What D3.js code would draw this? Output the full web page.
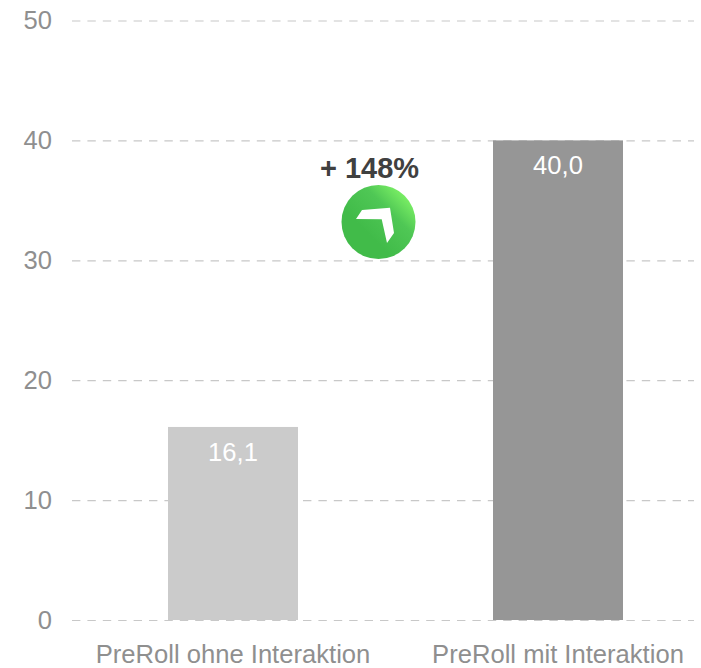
<!DOCTYPE html>
<html>
<head>
<meta charset="utf-8">
<script src="https://cdn.jsdelivr.net/npm/d3@7"></script>
<style>
  html, body { margin: 0; padding: 0; background: #fff; }
  text { font-family: "Liberation Sans", Arial, sans-serif; }
</style>
</head>
<body>
<div id="chart"></div>
<script>
const categories = ["PreRoll ohne Interaktion", "PreRoll mit Interaktion"];
const values = [16.1, 40.0];
const valueLabels = ["16,1", "40,0"];
const yTicks = [0, 10, 20, 30, 40, 50];
const barColors = ["#cbcbcb", "#969696"];
const uplift = "+ 148%";

const width = 701, height = 668;

const svg = d3.select("#chart").append("svg")
    .attr("width", width)
    .attr("height", height)
    .style("display", "block");

const y = d3.scaleLinear().domain([0, 50]).range([620, 20.5]);
const x = d3.scaleBand().domain(categories).range([70.5, 720.5])
    .paddingInner(0.6).paddingOuter(0.3);

// gridlines and y labels
const yAxis = svg.append("g")
    .attr("transform", "translate(72,0)")
    .call(d3.axisLeft(y).tickValues(yTicks).tickSize(-622).tickPadding(20));
yAxis.select(".domain").remove();
yAxis.selectAll("line")
    .attr("stroke", "#c8c8c8")
    .attr("stroke-width", 1.2)
    .attr("stroke-dasharray", "8.4 7");
yAxis.selectAll("text")
    .attr("fill", "#8f8f8f")
    .style("font-size", "25.6px")
    .style("font-family", '"Liberation Sans", Arial, sans-serif');

svg.selectAll(".bar")
    .data(categories)
    .enter().append("rect")
    .attr("class", "bar")
    .attr("x", d => x(d))
    .attr("y", (d, i) => y(values[i]))
    .attr("width", x.bandwidth())
    .attr("height", (d, i) => y(0) - y(values[i]))
    .attr("fill", (d, i) => barColors[i]);

svg.selectAll(".bar-label")
    .data(categories)
    .enter().append("text")
    .attr("class", "bar-label")
    .attr("x", d => x(d) + x.bandwidth() / 2)
    .attr("y", (d, i) => y(values[i]) + 34)
    .attr("text-anchor", "middle")
    .attr("fill", "#fff")
    .style("font-size", "25.6px")
    .text((d, i) => valueLabels[i]);

svg.selectAll(".cat-label")
    .data(categories)
    .enter().append("text")
    .attr("class", "cat-label")
    .attr("x", d => x(d) + x.bandwidth() / 2)
    .attr("y", 662.5)
    .attr("text-anchor", "middle")
    .attr("fill", "#8f8f8f")
    .style("font-size", "25.6px")
    .text(d => d);

// uplift callout
svg.append("text")
    .attr("x", 369.5)
    .attr("y", 177.5)
    .attr("text-anchor", "middle")
    .attr("fill", "#404040")
    .style("font-size", "29px")
    .style("font-weight", "bold")
    .text(uplift);

const grad = svg.append("defs").append("linearGradient")
    .attr("id", "badge")
    .attr("x1", "1").attr("y1", "0.1")
    .attr("x2", "0.4").attr("y2", "0.7");
grad.append("stop").attr("offset", "0").attr("stop-color", "#8cff6a");
grad.append("stop").attr("offset", "0.5").attr("stop-color", "#4fc755");
grad.append("stop").attr("offset", "1").attr("stop-color", "#41bb49");

svg.append("circle")
    .attr("cx", 378.5)
    .attr("cy", 222)
    .attr("r", 37)
    .attr("fill", "url(#badge)");

svg.append("path")
    .attr("d", "M356,219 L362,210 L390,207.700 L394,233 L387,243 L381.700,219.300 Z")
    .attr("fill", "#fff");
</script>
</body>
</html>
